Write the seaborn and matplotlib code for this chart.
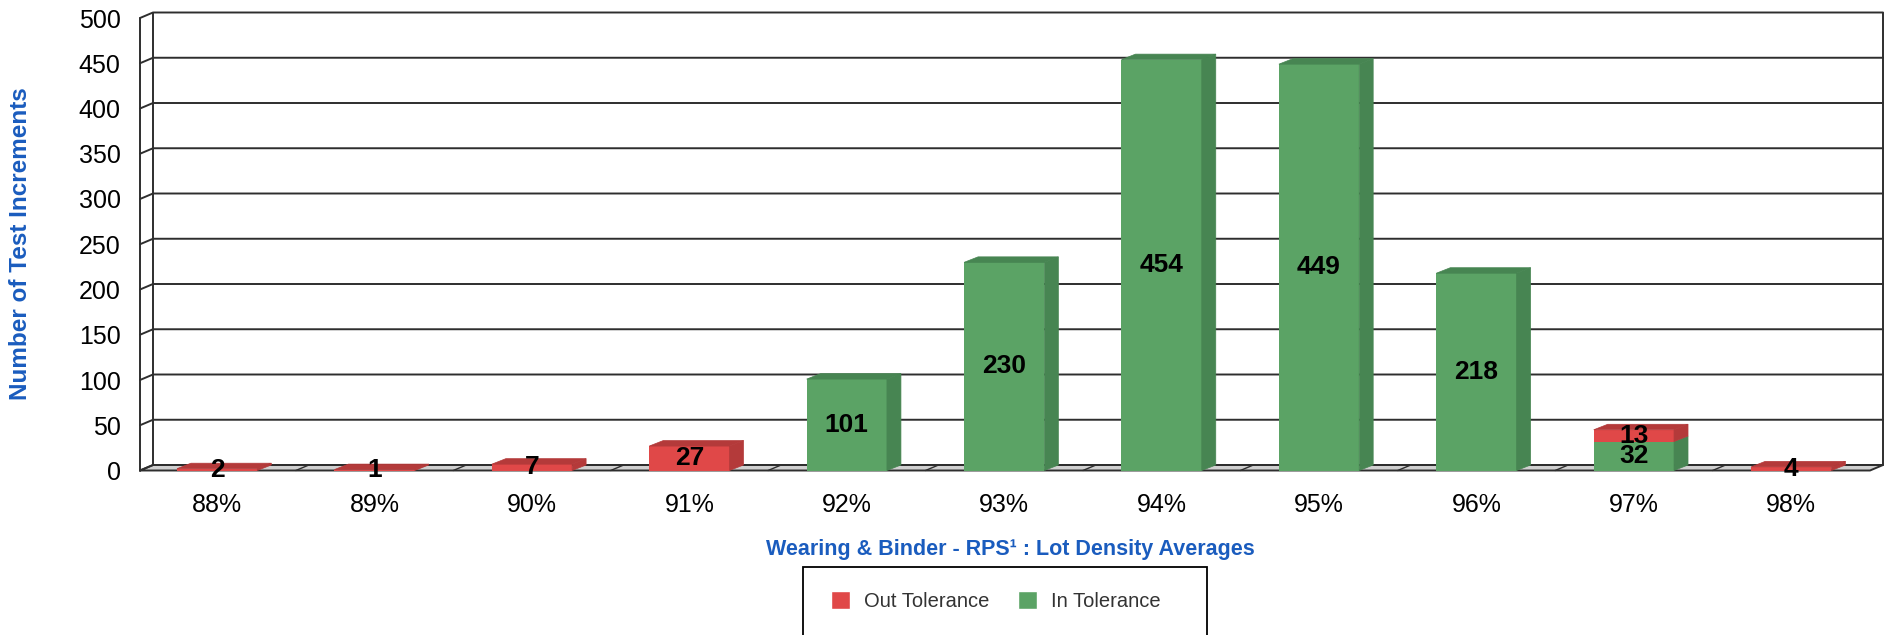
import numpy as np
import pandas as pd
import matplotlib.pyplot as plt
import seaborn as sns
from matplotlib.patches import Polygon, Patch, Rectangle

# Lot density averages and counts per tolerance group
categories = ['88%', '89%', '90%', '91%', '92%', '93%', '94%', '95%', '96%', '97%', '98%']
out_tolerance = [2, 1, 7, 27, 0, 0, 0, 0, 0, 13, 4]
in_tolerance = [0, 0, 0, 0, 101, 230, 454, 449, 218, 32, 0]
y_ticks = list(range(0, 501, 50))

RED, RED_DARK = '#e04848', '#b43a3a'
GREEN, GREEN_DARK = '#5ba365', '#478552'
BLUE = '#1a5cbe'

df = pd.DataFrame({'density': categories, 'out': out_tolerance, 'in': in_tolerance})
df['total'] = df['out'] + df['in']

sns.set_style('white')
plt.rcParams['font.family'] = ['Liberation Sans', 'DejaVu Sans']

W, H = 1888, 635
fig = plt.figure(figsize=(W / 100, H / 100), dpi=100)
ax = fig.add_axes([140 / W, 1 - 470.5 / H, 1730 / W, 452.5 / H])

# stacked bars: totals in red, then in-tolerance in green on top
sns.barplot(data=df, x='density', y='total', color=RED, saturation=1, width=0.51,
            errorbar=None, linewidth=0, zorder=3, ax=ax)
sns.barplot(data=df, x='density', y='in', color=GREEN, saturation=1, width=0.51,
            errorbar=None, linewidth=0, zorder=3, ax=ax)

x0, x1 = -0.49, 10.5
ax.set_xlim(x0, x1)
ax.set_ylim(0, 500)
for s in ax.spines.values():
    s.set_visible(False)

# depth of the fake 3d in data units
px_x = ax.bbox.width / (x1 - x0)
px_y = ax.bbox.height / 500
dxw, dyw = 13 / px_x, 5.5 / px_y
dxb, dyb = 14 / px_x, 5.5 / px_y

# walls, floor and grid
grid_kw = dict(color='#2e2e2e', lw=1.4, zorder=1, clip_on=False)
floor = Polygon([(x0, 0), (x0 + dxw, dyw), (x1 + dxw, dyw), (x1, 0)], closed=True,
                facecolor='#d0d0d0', edgecolor='#2e2e2e', lw=1.4, zorder=1, clip_on=False)
ax.add_patch(floor)
for v in y_ticks:
    ax.plot([x0, x0 + dxw, x1 + dxw], [v, v + dyw, v + dyw], **grid_kw)
ax.plot([x0, x0], [0, 500], **grid_kw)
ax.plot([x0 + dxw, x0 + dxw], [dyw, 500 + dyw], **grid_kw)
ax.plot([x1 + dxw, x1 + dxw], [dyw, 500 + dyw], **grid_kw)
for k in range(len(categories) - 1):
    ax.plot([k + 0.5, k + 0.5 + dxw], [0, dyw], color='#2e2e2e', lw=1.0, zorder=1.5, clip_on=False)

# sides and tops of the bars
red_bars = ax.containers[0].patches
for i, rb in enumerate(red_bars):
    bx0, bx1 = rb.get_x(), rb.get_x() + rb.get_width()
    g, tot = in_tolerance[i], in_tolerance[i] + out_tolerance[i]
    segs = []
    if g > 0:
        segs.append((0, g, GREEN_DARK))
    if out_tolerance[i] > 0:
        segs.append((g, tot, RED_DARK))
    for lo, hi, col in segs:
        ax.add_patch(Polygon([(bx1, lo), (bx1 + dxb, lo + dyb), (bx1 + dxb, hi + dyb), (bx1, hi)],
                             closed=True, facecolor=col, edgecolor=col, lw=0.5, zorder=3,
                             clip_on=False))
    top_col = segs[-1][2]
    ax.add_patch(Polygon([(bx0, tot), (bx0 + dxb, tot + dyb), (bx1 + dxb, tot + dyb), (bx1, tot)],
                         closed=True, facecolor=top_col, edgecolor=top_col, lw=0.5, zorder=3,
                         clip_on=False))

# value labels
for i in range(len(categories)):
    g, o = in_tolerance[i], out_tolerance[i]
    if g > 0:
        ax.text(i, g / 2, str(g), ha='center', va='center', fontsize=19,
                fontweight='bold', color='black', zorder=5)
    if o > 0:
        ax.text(i, g + o / 2, str(o), ha='center', va='center', fontsize=19,
                fontweight='bold', color='black', zorder=5)

ax.set_yticks(y_ticks)
ax.set_xlabel('')
ax.set_ylabel('')
ax.tick_params(axis='y', length=0, pad=14, labelsize=18, labelcolor='black')
ax.tick_params(axis='x', length=0, pad=16, labelsize=18, labelcolor='black')

fig.text(21 / W, 1 - 244 / H, 'Number of Test Increments', rotation=90, ha='center', va='center',
         fontsize=17.5, fontweight='bold', color=BLUE)
fig.text(1010 / W, 1 - 550 / H, 'Wearing & Binder - RPS\u00b9 : Lot Density Averages', ha='center',
         va='center', fontsize=15.5, fontweight='bold', color=BLUE)

# legend box (runs off the bottom edge like the original)
fig.add_artist(Rectangle((803 / W, -0.1), 404 / W, (H - 567) / H + 0.1, transform=fig.transFigure,
                         fill=False, edgecolor='black', lw=1.3, clip_on=False))
handles = [Patch(facecolor=RED, label='Out Tolerance'), Patch(facecolor=GREEN, label='In Tolerance')]
fig.legend(handles=handles, loc='center left', bbox_to_anchor=(831 / W, 1 - 601 / H), ncol=2,
           frameon=False, fontsize=14.5, handlelength=0.95, handleheight=0.95, handletextpad=0.7,
           columnspacing=1.4, borderpad=0, borderaxespad=0, labelcolor='#333333')

fig.savefig('out.png', dpi=100)
